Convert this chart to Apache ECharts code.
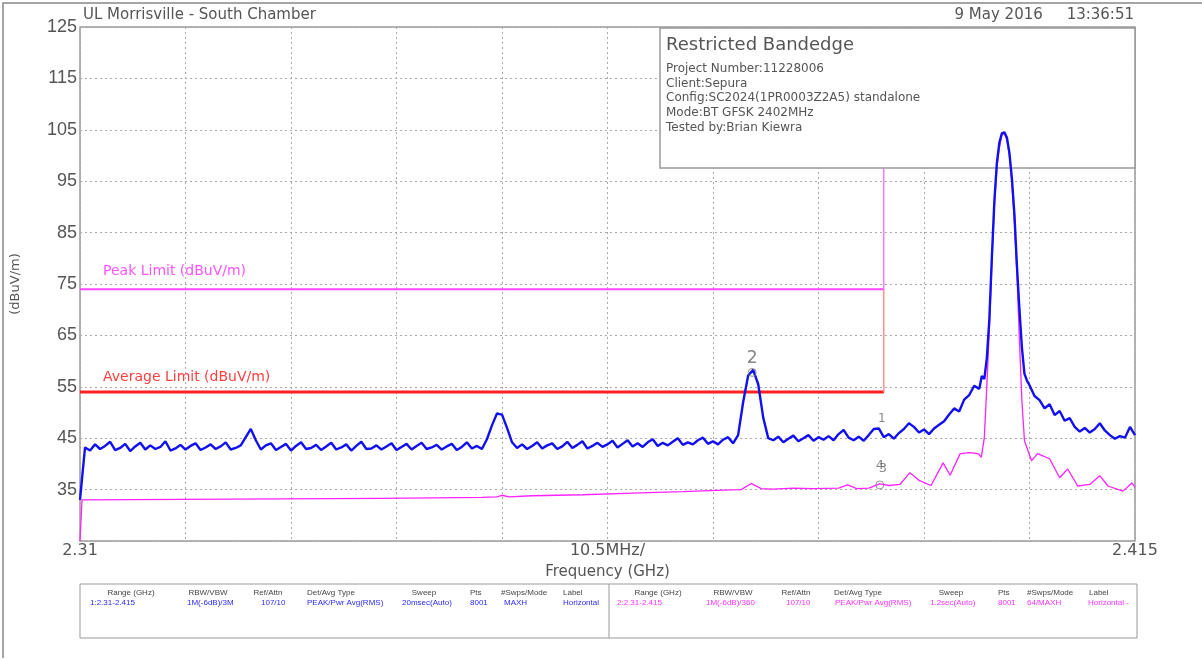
<!DOCTYPE html>
<html><head><meta charset="utf-8">
<script src="https://cdn.jsdelivr.net/npm/echarts@6/dist/echarts.min.js"></script>
<style>html,body{margin:0;padding:0;background:#fff}#c{width:1202px;height:660px}</style>
</head><body><div id="c"></div>
<script>
// ---- data (frequency in MHz, level in dBuV/m) ----
const blueFreq = [
2310,2310.5,2311,2311.5,2312,2312.5,2313,2313.5,2314,2314.5,2315,2315.5,2316,2316.5,2317,2317.5,2318,2318.5,2319,2319.5,
2320,2320.5,2321,2321.5,2322,2322.5,2323,2323.5,2324,2324.5,2325,2325.5,2326,2326.5,2327,2327.5,2328,2328.5,2329,2329.5,
2330,2330.5,2331,2331.5,2332,2332.5,2333,2333.5,2334,2334.5,2335,2335.5,2336,2336.5,2337,2337.5,2338,2338.5,2339,2339.5,
2340,2340.5,2341,2341.5,2342,2342.5,2343,2343.5,2344,2344.5,2345,2345.5,2346,2346.5,2347,2347.5,2348,2348.5,2349,2349.5,
2350,2350.5,2351,2351.5,2352,2352.5,2353,2353.5,2354,2354.5,2355,2355.5,2356,2356.5,2357,2357.5,2358,2358.5,2359,2359.5,
2360,2360.5,2361,2361.5,2362,2362.5,2363,2363.5,2364,2364.5,2365,2365.5,2366,2366.5,2367,2367.5,2368,2368.5,2369,2369.5,
2370,2370.5,2371,2371.5,2372,2372.5,2373,2373.5,2374,2374.5,2375,2375.5,2376,2376.5,2377,2377.5,2378,2378.5,2379,2379.5,
2380,2380.5,2381,2381.5,2382,2382.5,2383,2383.5,2384,2384.5,2385,2385.5,2386,2386.5,2387,2387.5,2388,2388.5,2389,2389.5,
2390,2390.5,2391,2391.5,2392,2392.5,2393,2393.5,2394,2394.5,2395,2395.5,2396,2396.5,2397,2397.5,2398,2398.5,2399,2399.5,
2399.75,2400,2400.25,2400.5,2400.75,2401,2401.25,2401.5,2401.75,2402,2402.25,2402.5,2402.75,2403,2403.25,2403.5,2403.75,2404,2404.25,2404.5,
2405,2405.5,2406,2406.5,2407,2407.5,2408,2408.5,2409,2409.5,2410,2410.5,2411,2411.5,2412,2412.5,2413,2413.5,2414,2414.5,2415
];
const blueVals = [
33,
43.2,42.6,43.8,42.9,43.5,44.3,42.7,43.1,43.9,42.5,43.4,44.1,42.8,43.6,42.9,43.3,44.4,42.6,43.0,43.7,42.8,43.5,44.0,42.7,43.2,43.8,42.9,43.4,44.2,42.8,43.1,43.6,
45.2,46.8,44.6,
42.8,43.6,44.0,42.7,43.3,43.9,42.6,43.5,44.2,42.9,43.1,43.7,42.7,43.4,44.1,42.8,43.2,43.8,42.6,43.5,44.3,42.9,43.0,43.6,42.8,43.4,44.0,42.7,43.3,43.9,42.8,43.5,44.1,42.9,43.2,43.7,42.8,43.4,43.9,42.7,43.3,44.2,43.0,43.5,42.9,
44.8,47.5,49.8,49.6,47.0,44.2,
43.1,43.8,42.9,43.5,44.2,43.0,43.6,44.0,42.9,43.4,44.3,43.1,43.7,44.4,43.0,43.5,44.1,43.3,43.8,44.5,43.2,43.9,44.6,43.4,44.0,43.3,44.2,44.8,43.5,44.1,43.6,44.3,45.0,43.7,44.2,43.8,44.6,45.1,43.9,44.4,43.8,44.7,45.2,44.0,
45.6,52.0,57.2,58.3,55.5,49.0,45.0,
44.6,45.3,44.2,44.9,45.5,44.4,45.0,45.6,44.5,45.2,44.7,45.4,44.6,45.8,46.6,45.1,44.6,45.3,44.5,45.6,46.8,
46.9,45.2,45.8,44.9,46.0,46.8,47.9,47.2,46.1,46.7,45.8,46.9,47.6,48.3,49.6,50.8,50.2,52.5,53.4,55.2,54.6,
57.1,56.5,60.5,68,80,91,98.5,102.5,104.3,104.5,103.5,100.5,95.5,88.5,78.5,70,62.5,57.5,56.2,55.3,
53.2,52.4,50.8,51.6,49.5,50.3,48.4,48.9,47.2,46.3,47.0,46.1,46.8,47.9,46.5,45.6,44.9,45.4,45.1,47.2,45.6
];
const pinkFreq = [2310,2310.2,2320,2330,2340,2345,2350,2351.5,2352,2352.7,2355,2360,2365,2370,2374,2375.8,2376.8,2377.8,2379,2381,2383,2385.5,2386.4,2387.3,2388.5,2389.6,2390.5,2391.6,2392.6,2393.5,2394.7,2395.9,2396.6,2397.6,2398.5,2399.4,2399.7,2400,2400.25,2400.5,2400.75,2401,2401.25,2401.5,2401.75,2402,2402.25,2402.5,2402.75,2403,2403.25,2403.5,2403.75,2404,2404.7,2405.3,2406.5,2407.5,2408.3,2409.3,2410.5,2411.5,2412.3,2413.8,2414.7,2415];
const pinkVals = [25,33.0,33.1,33.2,33.3,33.4,33.5,33.6,33.9,33.6,33.8,34.0,34.3,34.6,34.9,35.0,36.2,35.2,35.1,35.3,35.2,35.3,35.9,35.2,35.3,36.1,35.8,36.0,38.3,36.8,35.8,40.2,37.8,42.0,42.2,42.0,41.3,45.0,55,66,79,90,97.5,101.5,104,104.3,103,100,94.5,87,77,64,52,44.5,40.6,42.0,41.0,37.3,39.0,35.7,36.0,37.7,35.7,34.7,36.3,35.5];

const peakLimit = 74, avgLimit = 54;
const bandEdgeMHz = 2390, startMHz = 2310, stopMHz = 2415;
const markerFreq = [2389.6, 2376.9, 2389.6, 2389.6];
const markerVal = [46.6, 57.8, 35.9, 35.9];
const markerLabel = ['1', '2', '3', '4'];
const yTicks = [35,45,55,65,75,85,95,105,115,125];

const headerLeft = 'UL Morrisville - South Chamber';
const headerRight = '9 May 2016     13:36:51';
const infoTitle = 'Restricted Bandedge';
const infoLines = ['Project Number:11228006','Client:Sepura','Config:SC2024(1PR0003Z2A5) standalone','Mode:BT GFSK 2402MHz','Tested by:Brian Kiewra'];
const tblHeads = ['Range (GHz)','RBW/VBW','Ref/Attn','Det/Avg Type','Sweep','Pts','#Swps/Mode','Label'];
const tblRow1 = ['1:2.31-2.415','1M(-6dB)/3M','107/10','PEAK/Pwr Avg(RMS)','20msec(Auto)','8001','MAXH','Horizontal'];
const tblRow2 = ['2:2.31-2.415','1M(-6dB)/360','107/10','PEAK/Pwr Avg(RMS)','1.2sec(Auto)','8001','64/MAXH','Horizontal -'];

if (blueFreq.length !== blueVals.length) throw new Error('blue mismatch ' + blueFreq.length + ' ' + blueVals.length);
if (pinkFreq.length !== pinkVals.length) throw new Error('pink mismatch ' + pinkFreq.length + ' ' + pinkVals.length);

// ---- layout/styling ----
const chart = echarts.init(document.getElementById('c'), null, {renderer: 'canvas'});
const FONT = 'DejaVu Sans';
const GRAY = '#555';
const headX1 = [{x:131,a:'center'},{x:208,a:'center'},{x:268,a:'center'},{x:307,a:'left'},{x:424,a:'center'},{x:470,a:'left'},{x:501,a:'left'},{x:563,a:'left'}];
const valX1 = [90,187,261,307,402,470,504,563];
const headX2 = [{x:658,a:'center'},{x:733,a:'center'},{x:796,a:'center'},{x:834,a:'left'},{x:951,a:'center'},{x:998,a:'left'},{x:1027,a:'left'},{x:1089,a:'left'}];
const valX2 = [617,706,786,835,930,998,1027,1088];

const graphics = [];
graphics.push({type:'polyline', z:0, shape:{points:[[3,658],[3,3],[1202,3]]}, style:{stroke:'#888', lineWidth:1.5, fill:null}});
graphics.push({type:'text', z:5, left:83, top:8, style:{text:headerLeft, font:'15px "'+FONT+'"', fill:GRAY}});
graphics.push({type:'text', z:5, right:68, top:8, style:{text:headerRight, font:'15px "'+FONT+'"', fill:GRAY}});
graphics.push({type:'rect', z:1, shape:{x:660, y:28, width:475, height:140}, style:{fill:'#fff', stroke:'#999', lineWidth:1.5}});
graphics.push({type:'text', z:5, left:666, top:36, style:{text:infoTitle, font:'18px "'+FONT+'"', fill:GRAY}});
infoLines.forEach((t,i)=>graphics.push({type:'text', z:5, left:666, top:63 + i*14.6, style:{text:t, font:'12px "'+FONT+'"', fill:GRAY}}));
graphics.push({type:'text', z:5, left:103, top:264, style:{text:'Peak Limit (dBuV/m)', font:'14px "'+FONT+'"', fill:'#ff55ff'}});
graphics.push({type:'text', z:5, left:103, top:370, style:{text:'Average Limit (dBuV/m)', font:'14px "'+FONT+'"', fill:'#ff4040'}});
// bottom table
graphics.push({type:'rect', z:1, shape:{x:80, y:584, width:1057, height:54}, style:{fill:null, stroke:'#999', lineWidth:1}});
graphics.push({type:'line', z:1, shape:{x1:609, y1:584, x2:609, y2:638}, style:{stroke:'#999', lineWidth:1}});
tblHeads.forEach((t,i)=>{
  graphics.push({type:'text', z:5, x:headX1[i].x, y:589, style:{text:t, font:'8px "Liberation Sans"', fill:'#444', align:headX1[i].a}});
  graphics.push({type:'text', z:5, x:headX2[i].x, y:589, style:{text:t, font:'8px "Liberation Sans"', fill:'#444', align:headX2[i].a}});
});
tblRow1.forEach((t,i)=>graphics.push({type:'text', z:5, x:valX1[i], y:599, style:{text:t, font:'8px "Liberation Sans"', fill:'#2a2aff'}}));
tblRow2.forEach((t,i)=>graphics.push({type:'text', z:5, x:valX2[i], y:599, style:{text:t, font:'8px "Liberation Sans"', fill:'#ff33ff'}}));

const markerStyle = {
  '1': {offset:[2,0], size:12},
  '2': {offset:[0,4], size:17},
  '3': {offset:[3,0], size:13},
  '4': {offset:[0,-8], size:13}
};

const option = {
  animation: false,
  backgroundColor: '#fff',
  grid: {left: 80, right: 67, top: 27, bottom: 119, show: true, borderColor: '#999', borderWidth: 1.5, backgroundColor: 'transparent'},
  xAxis: {
    type: 'value', min: startMHz, max: stopMHz, interval: 10.5,
    name: 'Frequency (GHz)', nameLocation: 'middle', nameGap: 24,
    nameTextStyle: {color: GRAY, fontSize: 15, fontFamily: FONT},
    axisLine: {show: false}, axisTick: {show: false},
    axisLabel: {
      color: GRAY, fontSize: 16, fontFamily: FONT, margin: 2, showMinLabel: true, showMaxLabel: true,
      formatter: v => Math.abs(v - startMHz) < 0.01 ? (startMHz/1000).toString()
        : Math.abs(v - stopMHz) < 0.01 ? (stopMHz/1000).toString()
        : Math.abs(v - (startMHz + stopMHz)/2) < 0.01 ? '10.5MHz/' : ''
    },
    splitLine: {show: true, lineStyle: {color: '#aaaaaa', type: [2, 3], width: 1}}
  },
  yAxis: {
    type: 'value', min: 25, max: 125, interval: 10,
    name: '(dBuV/m)', nameLocation: 'middle', nameGap: 58, nameRotate: 90,
    nameTextStyle: {color: GRAY, fontSize: 13, fontFamily: FONT},
    axisLine: {show: false}, axisTick: {show: false},
    axisLabel: {color: GRAY, fontSize: 18, fontFamily: 'Liberation Sans', margin: 3,
      formatter: v => yTicks.indexOf(Math.round(v)) >= 0 ? String(Math.round(v)) : ''},
    splitLine: {show: true, lineStyle: {color: '#aaaaaa', type: [2, 3], width: 1}}
  },
  series: [
    {type:'line', name:'avg', data:[[startMHz,avgLimit],[bandEdgeMHz,avgLimit]], symbol:'none', z:2, lineStyle:{color:'#ff2020', width:3}},
    {type:'line', name:'peak', data:[[startMHz,peakLimit],[bandEdgeMHz,peakLimit]], symbol:'none', z:2, lineStyle:{color:'#ff44ff', width:2}},
    {type:'line', name:'edgeA', data:[[bandEdgeMHz,avgLimit],[bandEdgeMHz,peakLimit]], symbol:'none', z:2, lineStyle:{color:'#ff8080', width:1.3}},
    {type:'line', name:'edgeP', data:[[bandEdgeMHz,peakLimit],[bandEdgeMHz,97.5]], symbol:'none', z:2, lineStyle:{color:'#ff66ff', width:1.3}},
    {type:'line', name:'avgTrace', data: pinkFreq.map((f,i)=>[f,pinkVals[i]]), symbol:'none', z:3, lineStyle:{color:'#ff22ff', width:1.3}},
    {type:'line', name:'peakTrace', data: blueFreq.map((f,i)=>[f,blueVals[i]]), symbol:'none', z:4, lineStyle:{color:'#1010f0', width:2.4}},
    {type:'scatter', name:'markers', z:6,
      data: markerFreq.map((f,i)=>({
        value:[f, markerVal[i]],
        symbolSize: markerLabel[i] === '2' || markerLabel[i] === '3' ? 8 : 0,
        label:{show:true, position:'top', formatter: markerLabel[i], color:'#666', fontFamily:FONT,
          fontSize: markerStyle[markerLabel[i]].size, offset: markerStyle[markerLabel[i]].offset}
      })),
      symbol: 'circle',
      itemStyle: {color: 'rgba(255,255,255,0)', borderColor: '#777', borderWidth: 1}
    }
  ],
  graphic: graphics
};
chart.setOption(option);
</script>
</body></html>
